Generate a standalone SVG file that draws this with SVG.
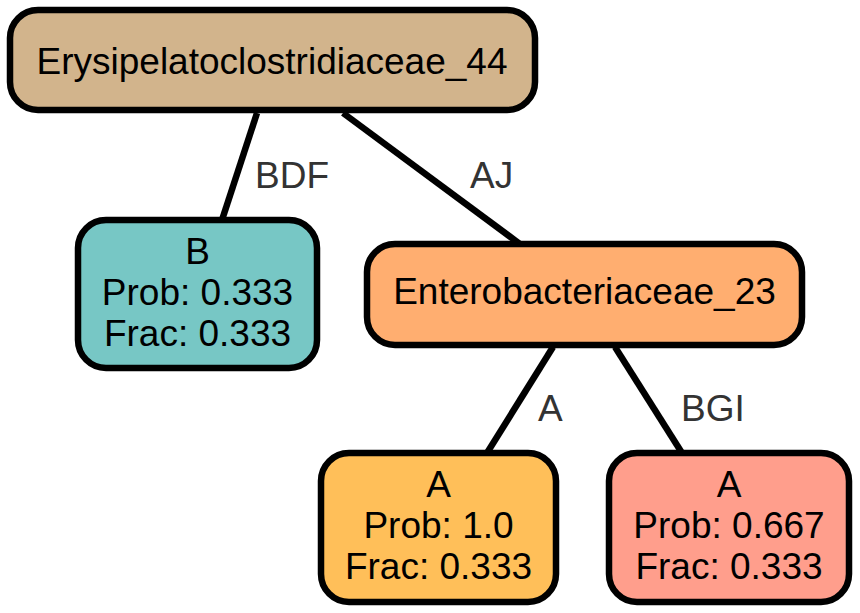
<svg xmlns="http://www.w3.org/2000/svg" width="860" height="613" viewBox="0 0 860 613">
  <style>
    .box { stroke: #000; stroke-width: 6.5; }
    .t { font-family: "Liberation Sans", Arial, Helvetica, sans-serif; font-size: 37px; fill: #000; text-anchor: middle; }
    .el { font-family: "Liberation Sans", Arial, Helvetica, sans-serif; font-size: 37px; fill: #333; }
    .edge { stroke: #000; stroke-width: 6.5; fill: none; }
  </style>
  <rect width="860" height="613" fill="#fff"/>
  <g id="connectors">
    <line class="edge" x1="257" y1="113" x2="222" y2="220"/>
    <line class="edge" x1="343" y1="113" x2="520" y2="244"/>
    <line class="edge" x1="553" y1="347" x2="487" y2="453"/>
    <line class="edge" x1="615" y1="347" x2="682" y2="453"/>
    <text class="el" x="255" y="188">BDF</text>
    <text class="el" x="470" y="188">AJ</text>
    <text class="el" x="538" y="421">A</text>
    <text class="el" x="681" y="421">BGI</text>
  </g>
  <g id="node-root">
    <rect class="box" x="10" y="10" width="525" height="100" rx="28" fill="#d2b48c"/>
    <text class="t" x="272" y="74">Erysipelatoclostridiaceae_44</text>
  </g>
  <g id="node-B">
    <rect class="box" x="78" y="220" width="239" height="148" rx="28" fill="#77c7c5"/>
    <text class="t" x="197.5" y="264">B</text>
    <text class="t" x="197.5" y="305">Prob: 0.333</text>
    <text class="t" x="197.5" y="346">Frac: 0.333</text>
  </g>
  <g id="node-entero">
    <rect class="box" x="367" y="244" width="435" height="101" rx="28" fill="#ffae70"/>
    <text class="t" x="584.5" y="304">Enterobacteriaceae_23</text>
  </g>
  <g id="node-A1">
    <rect class="box" x="321" y="453" width="235" height="149" rx="28" fill="#ffbf59"/>
    <text class="t" x="438.5" y="497">A</text>
    <text class="t" x="438.5" y="538">Prob: 1.0</text>
    <text class="t" x="438.5" y="579">Frac: 0.333</text>
  </g>
  <g id="node-A2">
    <rect class="box" x="609" y="453" width="240" height="149" rx="28" fill="#ff9e8c"/>
    <text class="t" x="729" y="497">A</text>
    <text class="t" x="729" y="538">Prob: 0.667</text>
    <text class="t" x="729" y="579">Frac: 0.333</text>
  </g>
</svg>
